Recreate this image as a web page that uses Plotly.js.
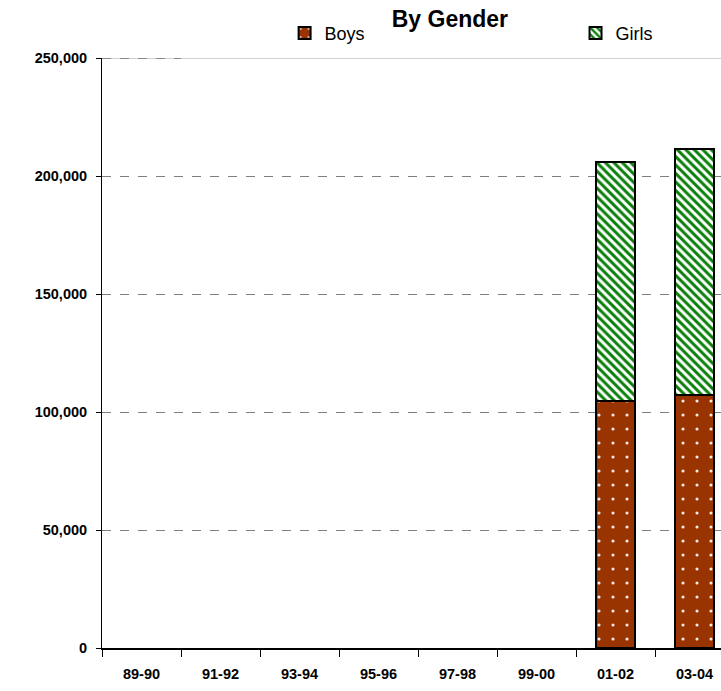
<!DOCTYPE html>
<html>
<head>
<meta charset="utf-8">
<script src="https://cdn.plot.ly/plotly-3.0.1.min.js"></script>
<style>
html,body{margin:0;padding:0;overflow:hidden;background:#fff;}
#chart{width:721px;height:691px;}
</style>
</head>
<body>
<div id="chart"></div>
<script>
const categories = ["89-90","91-92","93-94","95-96","97-98","99-00","01-02","03-04"];
const boys  = [null, null, null, null, null, null, 104800, 107200];
const girls = [null, null, null, null, null, null, 101000, 104200];
const yTicks = [0, 50000, 100000, 150000, 200000, 250000];

const traces = [
  {
    type: "bar", name: "Boys", x: categories, y: boys, width: 0.5,
    marker: {
      color: "#993300",
      line: {color: "#000", width: 2},
      pattern: {shape: ".", fgcolor: "#ffffff", fgopacity: 0.9, bgcolor: "#993300", size: 14, solidity: 0.04, fillmode: "overlay"}
    },
    legend: "legend", hoverinfo: "skip"
  },
  {
    type: "bar", name: "Girls", x: categories, y: girls, width: 0.5,
    marker: {
      color: "#ffffff",
      line: {color: "#000", width: 2},
      pattern: {shape: "\\", fgcolor: "#0b800b", fgopacity: 1, bgcolor: "#ffffff", size: 6, solidity: 0.5, fillmode: "overlay"}
    },
    legend: "legend2", hoverinfo: "skip"
  }
];

const layout = {
  width: 721, height: 691,
  margin: {l: 102, r: 0, t: 58, b: 43},
  paper_bgcolor: "#fff", plot_bgcolor: "#fff",
  barmode: "stack",
  showlegend: true,
  title: {
    text: "<b>By Gender</b>",
    font: {family: "Liberation Sans, Arial, sans-serif", size: 23, color: "#000"},
    x: 0.624, xanchor: "center", y: 0.973, yanchor: "middle"
  },
  font: {family: "Liberation Sans, Arial, sans-serif", color: "#000"},
  xaxis: {
    type: "category",
    range: [-0.5, 7.335],
    showline: true, linecolor: "#000", linewidth: 2,
    ticks: "outside", tickson: "boundaries", ticklen: 7, tickcolor: "#000", tickwidth: 1,
    showgrid: false, zeroline: false,
    tickfont: {family: "Liberation Sans, Arial, sans-serif", size: 14.5, color: "#000", weight: "bold"},
    ticklabelstandoff: 12,
    fixedrange: true
  },
  yaxis: {
    range: [0, 250000],
    tickvals: yTicks,
    tickformat: ",",
    showline: true, linecolor: "#000", linewidth: 1,
    ticks: "outside", ticklen: 5, tickcolor: "#000",
    showgrid: true, gridcolor: "#7f7f7f", griddash: "dash", gridwidth: 1,
    zeroline: false,
    tickfont: {family: "Liberation Sans, Arial, sans-serif", size: 14.5, color: "#000", weight: "bold"},
    ticklabelstandoff: 6,
    fixedrange: true
  },
  legend: {
    orientation: "h", x: 0.295, xanchor: "left", y: 1.042, yanchor: "middle",
    font: {family: "Liberation Sans, Arial, sans-serif", size: 18, color: "#000"},
    bgcolor: "rgba(0,0,0,0)"
  },
  legend2: {
    orientation: "h", x: 0.765, xanchor: "left", y: 1.042, yanchor: "middle",
    font: {family: "Liberation Sans, Arial, sans-serif", size: 18, color: "#000"},
    bgcolor: "rgba(0,0,0,0)"
  },
  shapes: [
    {type: "line", xref: "paper", yref: "y", x0: 0, x1: 1, y0: 250000, y1: 250000,
     line: {color: "#a0a0a0", width: 1}},
    {type: "line", xref: "x", yref: "y", x0: -0.5, x1: 0.5, y0: 250000, y1: 250000,
     line: {color: "#444", width: 1, dash: "dash"}}
  ]
};

Plotly.newPlot("chart", traces, layout, {displayModeBar: false, staticPlot: true});
</script>
</body>
</html>
